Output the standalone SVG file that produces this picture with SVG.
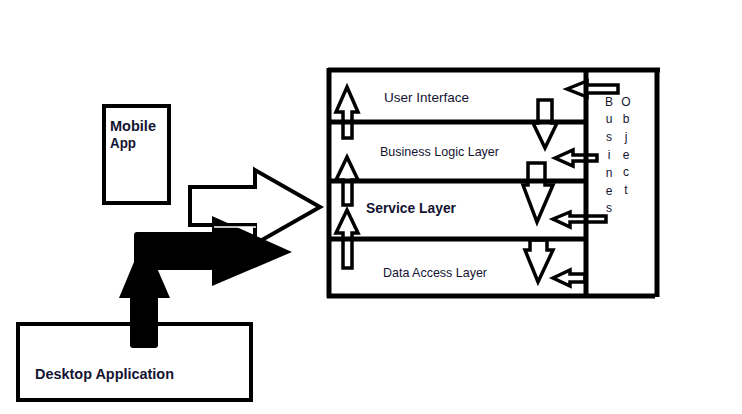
<svg xmlns="http://www.w3.org/2000/svg" width="742" height="414" viewBox="0 0 742 414">
<style>
.ha{fill:#fff;stroke:#000;stroke-width:3.5;stroke-linejoin:miter}
.ln{stroke:#000;stroke-width:5;fill:none}
.box{fill:#fff;stroke:#000;stroke-width:4}
.t{font-family:"Liberation Sans",Arial,sans-serif;font-size:13px;fill:#141432}
.b{font-family:"Liberation Sans",Arial,sans-serif;font-size:14px;font-weight:bold;fill:#141432}
.v{font-family:"Liberation Sans",Arial,sans-serif;font-size:12px;fill:#141432;text-anchor:middle}
</style>
<rect width="742" height="414" fill="#fff"/>
<g id="mobile-app">
<rect class="box" x="104" y="106" width="65" height="97"/>
<text class="b" x="110" y="131" textLength="46" lengthAdjust="spacingAndGlyphs">Mobile</text>
<text class="b" x="110" y="148" textLength="26" lengthAdjust="spacingAndGlyphs">App</text>
</g>
<g id="desktop-application">
<rect class="box" x="18" y="324" width="233" height="76"/>
<text class="b" x="35" y="379" textLength="139" lengthAdjust="spacingAndGlyphs">Desktop Application</text>
</g>
<g id="connectors">
<polygon class="ha" points="190,187 255,187 255,170 320,207 255,244 255,225 190,225" style="stroke-width:4"/>
<g fill="#000">
<rect x="130" y="285" width="28" height="63" rx="3"/>
<polygon points="119,298 144,238 170,298"/>
<rect x="134" y="232" width="80" height="38" rx="3"/>
<polygon points="212,216 292,252 212,286"/>
</g>
<line x1="214" y1="227" x2="256" y2="227" stroke="#fff" stroke-width="1.5"/>
</g>
<g id="layers">
<g id="layer-arrows">
<polygon class="ha" points="347,87 358,112 352,112 352,138 343,138 343,112 336,112"/>
<polygon class="ha" points="347,157 358,180 352,180 352,205 343,205 343,180 336,180"/>
<polygon class="ha" points="347,210 358,233 352,233 352,268 343,268 343,233 336,233"/>
<polygon class="ha" points="538,100 552,100 552,123 557,123 545,148 533,123 538,123"/>
<polygon class="ha" points="528,163 545,163 545,185 553,185 537,222 523,185 528,185"/>
<polygon class="ha" points="530,240 547,240 547,250 553,250 538,282 525,250 530,250"/>
<polygon class="ha" points="567,89 587,81 587,85 618,85 618,93 587,93 587,97"/>
<polygon class="ha" points="555,158 573,150 573,155 597,155 597,161 573,161 573,166"/>
<polygon class="ha" points="553,219 570,212 570,216 606,216 606,222 570,222 570,227"/>
<polygon class="ha" points="553,278 570,270 570,274 585,274 585,282 570,282 570,286"/>
</g>
<path class="ln" d="M328,70 H660 M657,70 V297 M329,68 V298 M327,296 H655 M586,70 V296 M327,122 H588 M327,181 H588 M327,239 H588"/>
</g>
<g id="user-interface"><text class="t" x="384" y="102" textLength="85" lengthAdjust="spacingAndGlyphs">User Interface</text></g>
<g id="business-logic-layer"><text class="t" x="380" y="156" textLength="119" lengthAdjust="spacingAndGlyphs">Business Logic Layer</text></g>
<g id="service-layer"><text class="b" x="366" y="213" textLength="90" lengthAdjust="spacingAndGlyphs">Service Layer</text></g>
<g id="data-access-layer"><text class="t" x="383" y="277" textLength="104" lengthAdjust="spacingAndGlyphs">Data Access Layer</text></g>
<g id="business-objects">
<text class="v" x="609" y="106">B</text>
<text class="v" x="609" y="123">u</text>
<text class="v" x="609" y="141">s</text>
<text class="v" x="609" y="159">i</text>
<text class="v" x="609" y="177">n</text>
<text class="v" x="609" y="195">e</text>
<text class="v" x="609" y="212">s</text>
<text class="v" x="626" y="106">O</text>
<text class="v" x="626" y="123">b</text>
<text class="v" x="626" y="141">j</text>
<text class="v" x="626" y="159">e</text>
<text class="v" x="626" y="176">c</text>
<text class="v" x="626" y="194">t</text>
</g>
</svg>
